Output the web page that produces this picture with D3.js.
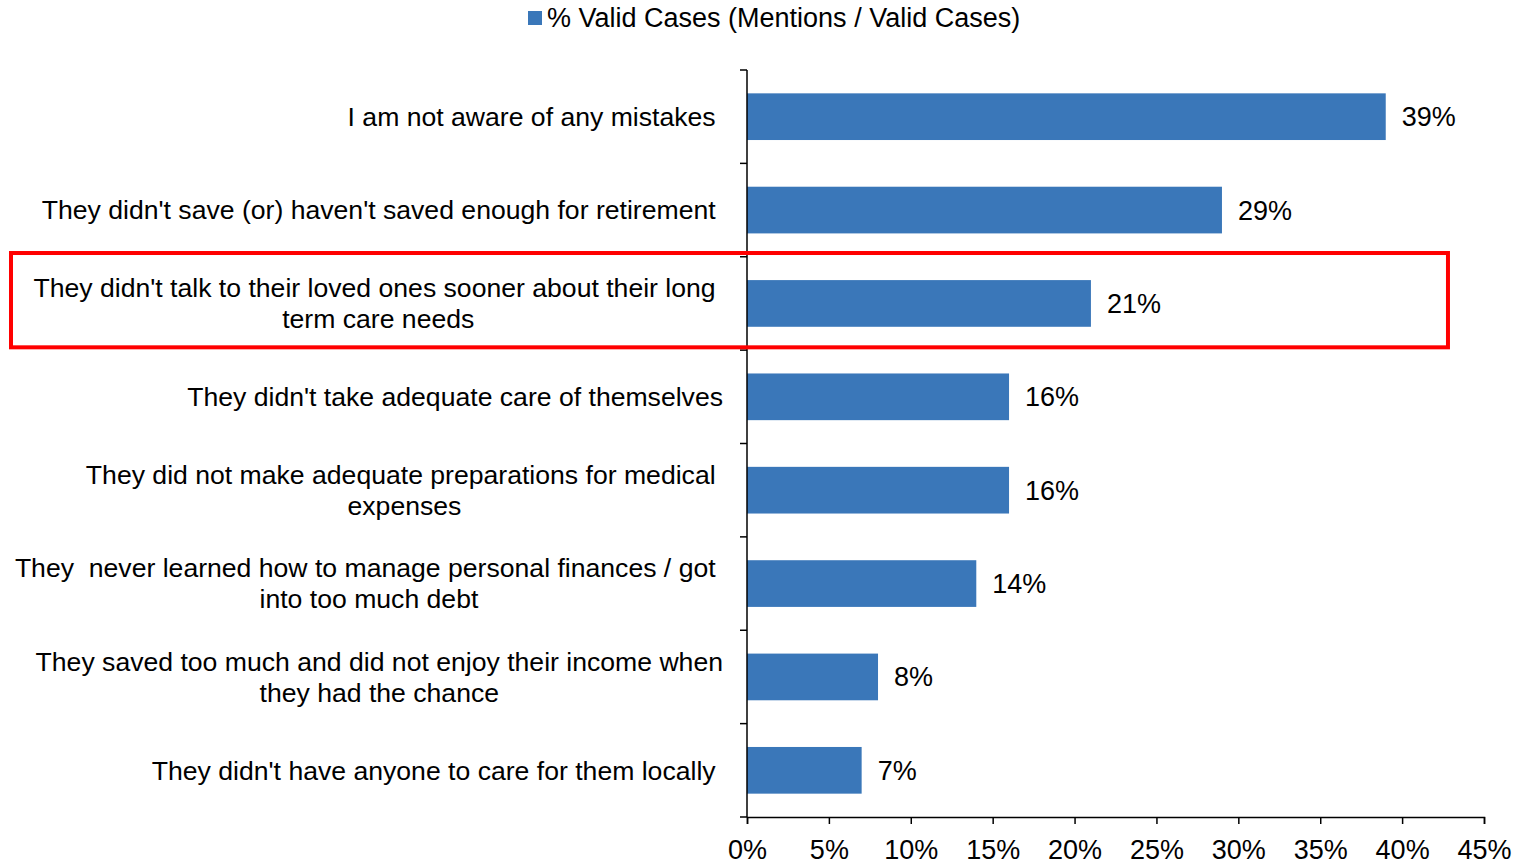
<!DOCTYPE html>
<html>
<head>
<meta charset="utf-8">
<script src="https://cdn.jsdelivr.net/npm/d3@7"></script>
<style>
  body { margin: 0; background: #fff; }
  svg text { font-family: "Liberation Sans", Arial, sans-serif; fill: #000; }
</style>
</head>
<body>
<svg id="chart" width="1521" height="864"></svg>
<script>
// answers, each split in the lines shown on the chart
var categories = [
  ["I am not aware of any mistakes "],
  ["They didn't save (or) haven't saved enough for retirement "],
  ["They didn't talk to their loved ones sooner about their long ", "term care needs"],
  ["They didn't take adequate care of themselves"],
  ["They did not make adequate preparations for medical ", "expenses"],
  ["They  never learned how to manage personal finances / got ", "into too much debt"],
  ["They saved too much and did not enjoy their income when", "they had the chance"],
  ["They didn't have anyone to care for them locally "]
];
var values = [39, 29, 21, 16, 16, 14, 8, 7];
var xTicks = [0, 5, 10, 15, 20, 25, 30, 35, 40, 45];
var seriesName = "% Valid Cases (Mentions / Valid Cases)";
var highlighted = 2;

var svg = d3.select('#chart');
var mLeft = 747, mRight = 1484, mTop = 70, mBottom = 817;
var barColor = '#3a77b9';
var fs = '27px';

var x = d3.scaleLinear().domain([0, 45]).range([mLeft, mRight]);
var y = d3.scaleBand()
  .domain(d3.range(categories.length))
  .range([mTop, mBottom])
  .paddingInner(0.5)
  .paddingOuter(0.25);

// bars
svg.selectAll('rect.bar')
    .data(values)
  .enter().append('rect')
    .attr('class', 'bar')
    .attr('x', x(0))
    .attr('y', function(d, i) { return y(i); })
    .attr('width', function(d) { return x(d) - x(0); })
    .attr('height', y.bandwidth())
    .attr('fill', barColor);

// value labels
svg.selectAll('text.val')
    .data(values)
  .enter().append('text')
    .attr('class', 'val')
    .attr('x', function(d) { return x(d) + 16; })
    .attr('y', function(d, i) { return y(i) + y.bandwidth() / 2; })
    .attr('dy', '0.35em')
    .style('font-size', fs)
    .text(function(d) { return d + '%'; });

// x axis
var xAxis = svg.append('g')
  .attr('transform', 'translate(0,' + mBottom + ')')
  .call(d3.axisBottom(x).tickValues(xTicks).tickSize(7).tickSizeOuter(7)
    .tickFormat(function(d) { return d + '%'; }));
xAxis.selectAll('text').style('font-size', fs).attr('dy', '1.2em');
xAxis.selectAll('path, line').attr('stroke-width', 1.5);

// y axis, ticks on the band edges
var edges = d3.range(categories.length + 1).map(function(i) { return mTop + i * y.step(); });
var yAxis = svg.append('g');
yAxis.append('line')
  .attr('x1', mLeft).attr('x2', mLeft)
  .attr('y1', mTop).attr('y2', mBottom)
  .attr('stroke', '#000').attr('stroke-width', 1.5);
yAxis.selectAll('line.tick')
    .data(edges)
  .enter().append('line')
    .attr('class', 'tick')
    .attr('x1', mLeft - 7).attr('x2', mLeft)
    .attr('y1', function(d) { return d; })
    .attr('y2', function(d) { return d; })
    .attr('stroke', '#000').attr('stroke-width', 1.5);

// category labels: block right aligned, lines centred inside it
var lineH = 31;
categories.forEach(function(lines, i) {
  var g = svg.append('g');
  var cy = y(i) + y.bandwidth() / 2;
  var texts = lines.map(function(l, j) {
    return g.append('text')
      .attr('y', cy + (j - (lines.length - 1) / 2) * lineH)
      .attr('dy', '0.35em')
      .style('font-size', '26.6px')
      .style('white-space', 'pre')
      .attr('text-anchor', 'middle')
      .text(l);
  });
  var w = d3.max(texts, function(t) { return t.node().getComputedTextLength(); });
  texts.forEach(function(t) { t.attr('x', mLeft - 24 - w / 2); });
});

// highlight box
svg.append('rect')
  .attr('x', 11)
  .attr('y', y(highlighted) - y.step() * 0.29)
  .attr('width', x(42.8) - 11)
  .attr('height', y.step() * 1.01)
  .attr('fill', 'none')
  .attr('stroke', '#ff0000')
  .attr('stroke-width', 4);

// legend
var legend = svg.append('g').attr('transform', 'translate(528,11)');
legend.append('rect').attr('width', 14).attr('height', 14).attr('fill', barColor);
legend.append('text')
  .attr('x', 19).attr('y', 7).attr('dy', '0.35em')
  .style('font-size', fs)
  .text(seriesName);
</script>
</body>
</html>
